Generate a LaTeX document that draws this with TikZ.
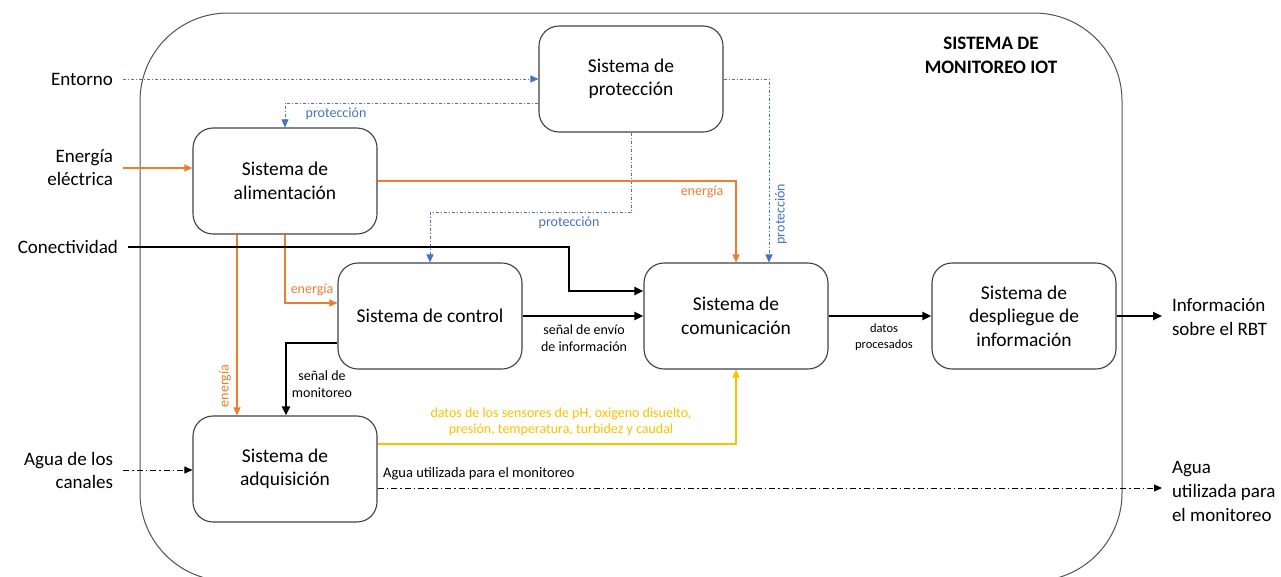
\documentclass[tikz,border=0pt]{standalone}
\usepackage{fontspec}
\setmainfont{Carlito}
\usetikzlibrary{arrows.meta,calc}
\definecolor{pblue}{HTML}{4472C4}
\definecolor{porange}{HTML}{ED7D31}
\definecolor{pyellow}{HTML}{FFC000}
\definecolor{pgray}{HTML}{404040}
\tikzset{
  sysbox/.style={draw=pgray, line width=1.1pt, rounded corners=20pt, minimum width=184pt, minimum height=106pt, align=center, font=\fontsize{19.5}{23.5}\selectfont, inner sep=2pt},
  extl/.style={inner sep=0pt, outer xsep=10pt, align=right, font=\fontsize{19}{23}\selectfont},
  extr/.style={inner sep=0pt, outer xsep=10pt, align=left, font=\fontsize{19}{24}\selectfont},
  lbl/.style={font=\fontsize{14}{16.5}\selectfont, align=center, inner sep=0pt},
  slbl/.style={font=\fontsize{12.5}{16}\selectfont, align=center, inner sep=0pt},
  bluel/.style={draw=pblue, line width=0.9pt, dash pattern=on 3pt off 2pt on 1pt off 2pt, -{Triangle[length=8pt,width=7pt]}},
  orl/.style={draw=porange, line width=1.1pt, -{Triangle[length=8pt,width=7pt]}},
  yell/.style={draw=pyellow, line width=1.4pt, -{Triangle[length=8pt,width=7pt]}},
  thk/.style={draw=black, line width=2.8pt, -{Triangle[length=9pt,width=8pt]}},
  dashdotl/.style={draw=black, line width=0.9pt, dash pattern=on 6pt off 3pt on 1.5pt off 3pt, -{Triangle[length=8pt,width=7pt]}}
}
\begin{document}
\begin{tikzpicture}[x=1pt,y=-1pt]
\useasboundingbox (0,0) rectangle (1281,576);
% outer system boundary
\draw[draw=pgray!90, line width=1pt, rounded corners=88pt] (140,13) rectangle (1122,581);
\node[font=\bfseries\fontsize{19}{24}\selectfont, align=center] (title) at (991,55) {SISTEMA DE\\MONITOREO IOT};

% subsystems
\node[sysbox] (prot) at (631,79) {Sistema de\\protección};
\node[sysbox] (alim) at (285,181) {Sistema de\\alimentación};
\node[sysbox] (ctrl) at (430,316) {Sistema de control};
\node[sysbox] (comm) at (736,316) {Sistema de\\comunicación};
\node[sysbox] (desp) at (1024,316) {Sistema de\\despliegue de\\información};
\node[sysbox] (adq) at (285,469) {Sistema de\\adquisición};

% external texts
\node[extl, anchor=east] (entorno) at (123,79) {Entorno};
\node[extl, anchor=east] (energia) at (123,168) {Energía\\eléctrica};
\node[extl, anchor=east] (conect) at (128,247) {Conectividad};
\node[extl, anchor=east] (agua) at (123,470) {Agua de los\\canales};
\node[extr, anchor=west] (info) at (1162,317) {Información\\sobre el RBT};
\node[extr, anchor=west] (aguaout) at (1162,491) {Agua\\utilizada para\\el monitoreo};

% protection connectors
\draw[bluel] (entorno.east) -- (entorno.east -| prot.west);
\draw[bluel] ([yshift=-24pt]prot.west) -| (alim.north);
\draw[bluel] (prot.south) -- ++(0,80) -| (ctrl.north);
\draw[bluel] (prot.east) -| ([xshift=33pt]comm.north);
\node[lbl, text=pblue] (lp1) at (336,114) {protección};
\node[lbl, text=pblue] (lp2) at (569,223) {protección};
\node[lbl, text=pblue, rotate=90] (lp3) at (781,214) {protección};

% energy connectors
\draw[orl] (energia.east) -- (energia.east -| alim.west);
\draw[orl] (alim.east) -| (comm.north);
\draw[orl] ([xshift=-48pt]alim.south) -- ([xshift=-48pt]adq.north);
\draw[orl] (alim.south) |- ([yshift=13pt]ctrl.west);
\node[lbl, text=porange] (le1) at (702,192) {energía};
\node[lbl, text=porange] (le2) at (312,290) {energía};
\node[lbl, text=porange, rotate=90] (le3) at (225,386) {energía};

% connectivity and signals
\coordinate (k1) at (569,291);
\draw[thk] (conect.east) -| (k1) -- (k1 -| comm.west);
\draw[thk] (ctrl.east) -- (comm.west);
\node[lbl] (lsi) at (584,338) {señal de envío\\de información};
\draw[thk] ([yshift=-27pt]ctrl.west) -| ([xshift=1pt]adq.north);
\node[lbl] (lsm) at (322,384) {señal de\\monitoreo};
\draw[thk] (comm.east) -- (desp.west);
\node[slbl] (ldp) at (884,337) {datos\\procesados};
\draw[thk] (desp.east) -- (desp.east -| info.west);

% sensor data
\draw[yell] ([yshift=25pt]adq.east) -| (comm.south);
\node[lbl, text=pyellow] (lsd) at (561,422) {datos de los sensores de pH, oxigeno disuelto,\\presión, temperatura, turbidez y caudal};

% water
\draw[dashdotl] (agua.east) -- (agua.east -| adq.west);
\draw[dashdotl] ([yshift=-19pt]adq.east) -- ([yshift=-19pt]adq.east -| aguaout.west);
\node[lbl, anchor=west, font=\fontsize{14.5}{17}\selectfont] (lau) at (383,474) {Agua utilizada para el monitoreo};
\end{tikzpicture}
\end{document}
